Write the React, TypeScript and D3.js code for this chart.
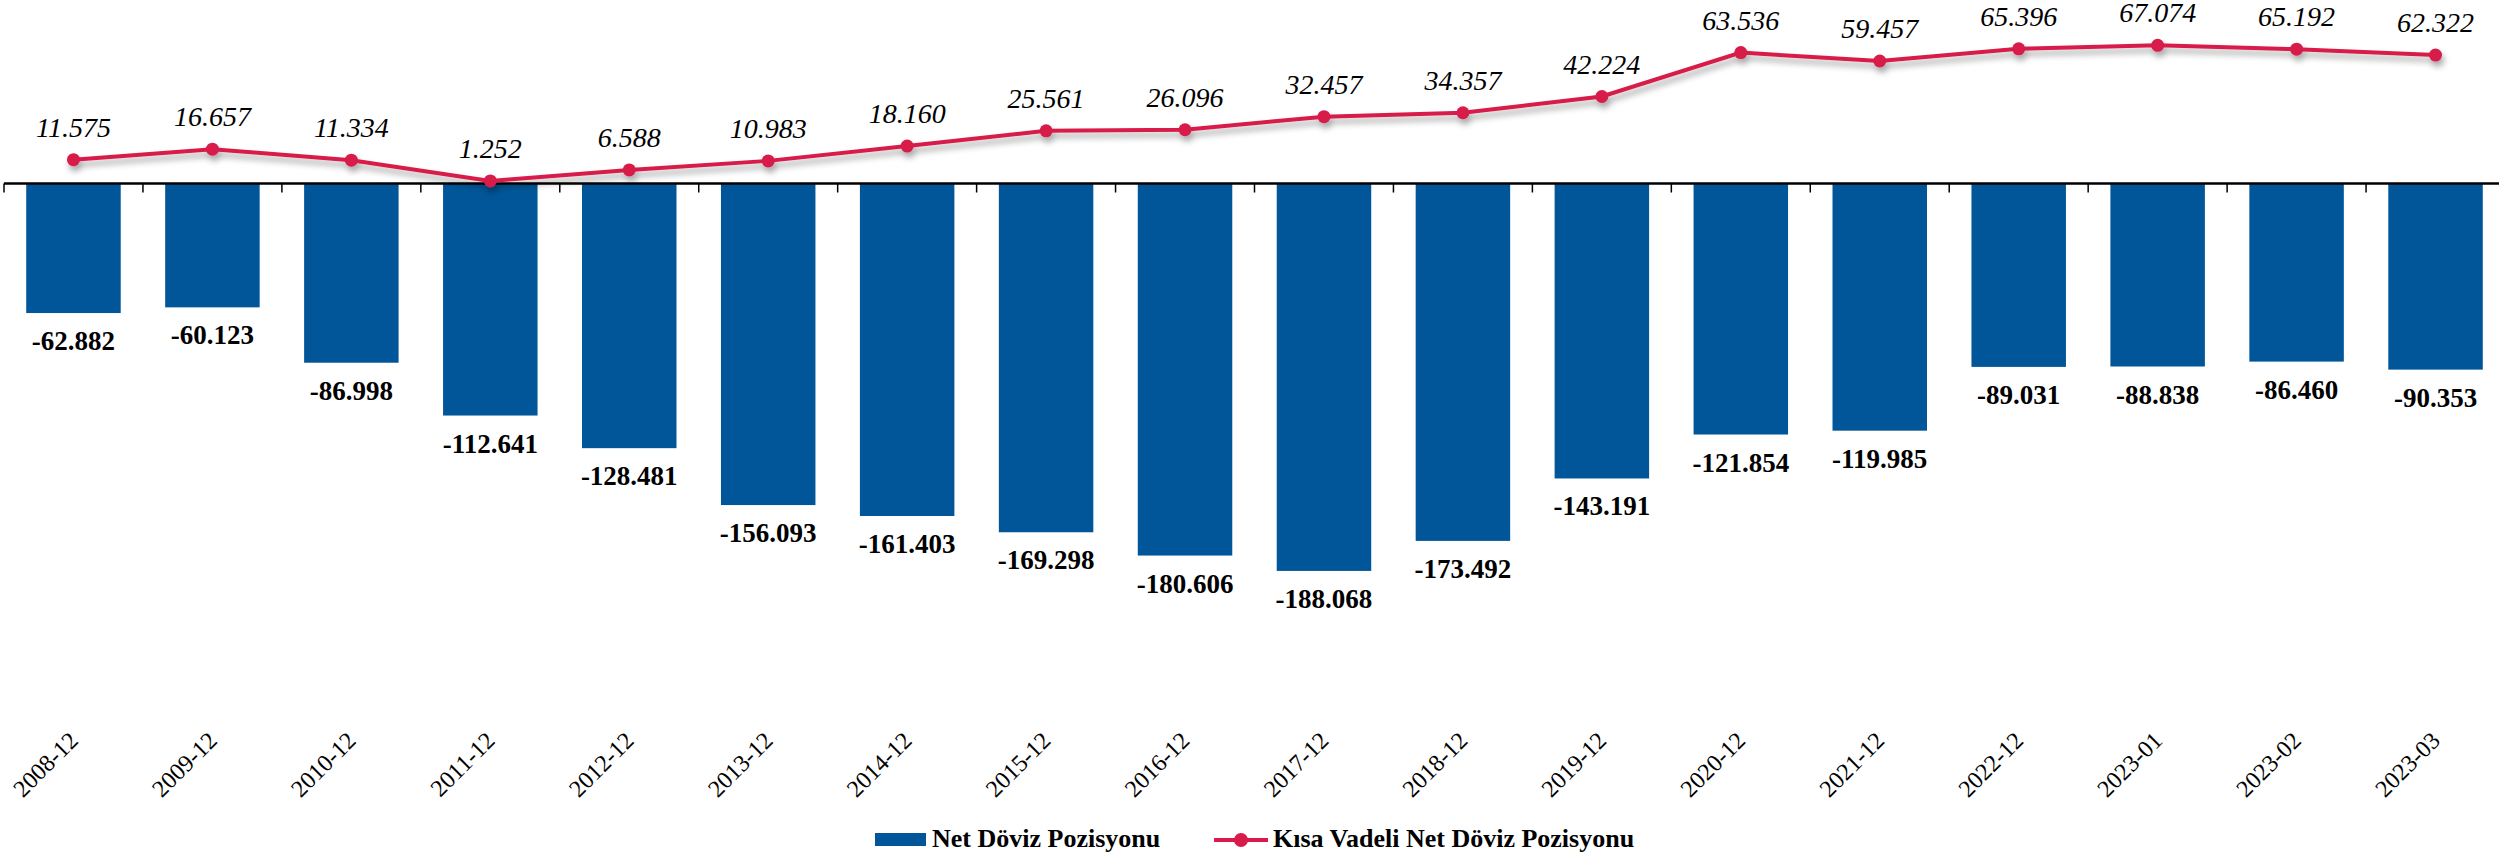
import * as d3 from "d3";

const categories = [
  "2008-12", "2009-12", "2010-12", "2011-12", "2012-12", "2013-12",
  "2014-12", "2015-12", "2016-12", "2017-12", "2018-12", "2019-12",
  "2020-12", "2021-12", "2022-12", "2023-01", "2023-02", "2023-03",
];

const netPosition = [
  -62.882, -60.123, -86.998, -112.641, -128.481, -156.093, -161.403, -169.298,
  -180.606, -188.068, -173.492, -143.191, -121.854, -119.985, -89.031, -88.838,
  -86.46, -90.353,
];

const shortTermPosition = [
  11.575, 16.657, 11.334, 1.252, 6.588, 10.983, 18.16, 25.561, 26.096, 32.457,
  34.357, 42.224, 63.536, 59.457, 65.396, 67.074, 65.192, 62.322,
];

const seriesNames = ["Net Döviz Pozisyonu", "Kısa Vadeli Net Döviz Pozisyonu"];

const W = 2499;
const H = 856;
const BLUE = "#015699";
const RED = "#d81b4a";
const FONT = "'Liberation Serif', 'DejaVu Serif', serif";

const fmt = (v: number) => v.toFixed(3);

export default function App() {
  // bars sit centred in each tick band
  const x = d3
    .scaleBand()
    .domain(categories)
    .range([4, 2505])
    .paddingInner(0.32)
    .paddingOuter(0.16);
  const xOuter = d3.scaleBand().domain(categories).range([4, 2505]);
  const y = d3.scaleLinear().domain([-200, 80]).range([595.5, 18.7]);
  const cx = (c: string) => (x(c) as number) + x.bandwidth() / 2;

  const line = d3
    .line<number>()
    .x((_, i) => cx(categories[i]))
    .y((d) => y(d));

  return (
    <svg
      width={W}
      height={H}
      style={{ position: "absolute", left: 0, top: 0, background: "#fff" }}
    >
      <defs>
        <filter id="shadow" x="-5%" y="-50%" width="110%" height="200%">
          <feDropShadow dx="2" dy="5" stdDeviation="3" floodColor="#000" floodOpacity="0.35" />
        </filter>
      </defs>

      {/* bars */}
      {categories.map((c, i) => (
        <rect
          key={c}
          x={x(c)}
          y={y(0)}
          width={x.bandwidth()}
          height={y(netPosition[i]) - y(0)}
          fill={BLUE}
        />
      ))}

      {/* axis */}
      <line x1={4} x2={W} y1={y(0)} y2={y(0)} stroke="#000" strokeWidth={2.5} />
      {categories.map((c) => (
        <line
          key={"t" + c}
          x1={xOuter(c)}
          x2={xOuter(c)}
          y1={y(0)}
          y2={y(0) + 9}
          stroke="#000"
          strokeWidth={1.5}
        />
      ))}

      {/* bar labels */}
      {categories.map((c, i) => (
        <text
          key={"bl" + c}
          x={cx(c)}
          y={y(netPosition[i]) + 37}
          textAnchor="middle"
          fontFamily={FONT}
          fontWeight="bold"
          fontSize={27}
          fill="#000"
        >
          {fmt(netPosition[i])}
        </text>
      ))}

      {/* line */}
      <g filter="url(#shadow)">
        <path d={line(shortTermPosition) || ""} fill="none" stroke={RED} strokeWidth={4} />
        {categories.map((c, i) => (
          <circle key={"p" + c} cx={cx(c)} cy={y(shortTermPosition[i])} r={6.5} fill={RED} />
        ))}
      </g>
      {categories.map((c, i) => (
        <text
          key={"ll" + c}
          x={cx(c)}
          y={y(shortTermPosition[i]) - 23}
          textAnchor="middle"
          fontFamily={FONT}
          fontStyle="italic"
          fontSize={28}
          fill="#000"
        >
          {fmt(shortTermPosition[i])}
        </text>
      ))}

      {/* x labels */}
      {categories.map((c) => (
        <text
          key={"xl" + c}
          transform={`translate(${cx(c) + 6},${742}) rotate(-45)`}
          textAnchor="end"
          fontFamily={FONT}
          fontSize={24}
          fill="#000"
        >
          {c}
        </text>
      ))}

      {/* legend */}
      <rect x={875} y={833} width={51} height={13} fill={BLUE} />
      <text x={932} y={847} fontFamily={FONT} fontWeight="bold" fontSize={26}>
        {seriesNames[0]}
      </text>
      <line x1={1214} x2={1268} y1={840} y2={840} stroke={RED} strokeWidth={4} />
      <circle cx={1241} cy={840} r={7} fill={RED} />
      <text x={1273} y={847} fontFamily={FONT} fontWeight="bold" fontSize={26}>
        {seriesNames[1]}
      </text>
    </svg>
  );
}
